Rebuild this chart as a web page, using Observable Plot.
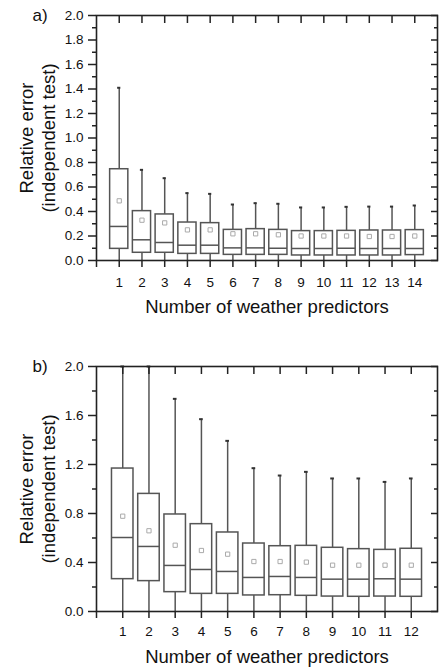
<!DOCTYPE html>
<html>
<head>
<meta charset="utf-8">
<script src="https://cdn.jsdelivr.net/npm/d3@7"></script>
<script src="https://cdn.jsdelivr.net/npm/@observablehq/plot@0.6"></script>
<style>
  body { margin: 0; background: white; }
  #chart svg { display: block; }
</style>
</head>
<body>
<div id="chart"></div>
<script>
// Panel a)
const catsA = [1, 2, 3, 4, 5, 6, 7, 8, 9, 10, 11, 12, 13, 14];
const maxA = [1.41, 0.74, 0.672, 0.55, 0.544, 0.457, 0.468, 0.463, 0.433, 0.433, 0.438, 0.44, 0.44, 0.449];
const q3A = [0.745, 0.403, 0.376, 0.31, 0.305, 0.25, 0.256, 0.25, 0.24, 0.24, 0.242, 0.245, 0.245, 0.248];
const medA = [0.278, 0.169, 0.147, 0.125, 0.125, 0.103, 0.103, 0.1, 0.098, 0.098, 0.1, 0.098, 0.098, 0.098];
const q1A = [0.095, 0.063, 0.063, 0.054, 0.054, 0.046, 0.046, 0.046, 0.041, 0.041, 0.041, 0.041, 0.041, 0.044];
const meanA = [0.487, 0.329, 0.307, 0.25, 0.25, 0.218, 0.218, 0.21, 0.2, 0.2, 0.2, 0.196, 0.196, 0.2];
const minA = [0, 0, 0, 0, 0, 0, 0, 0, 0, 0, 0, 0, 0, 0];
const yTicksA = [0, 0.2, 0.4, 0.6, 0.8, 1.0, 1.2, 1.4, 1.6, 1.8, 2.0];
const yMinorA = [0.1, 0.3, 0.5, 0.7, 0.9, 1.1, 1.3, 1.5, 1.7, 1.9];

// Panel b)
const catsB = [1, 2, 3, 4, 5, 6, 7, 8, 9, 10, 11, 12];
const maxB = [2.0, 2.0, 1.736, 1.57, 1.393, 1.17, 1.11, 1.14, 1.086, 1.086, 1.058, 1.086];
const q3B = [1.167, 0.96, 0.792, 0.713, 0.645, 0.555, 0.533, 0.536, 0.52, 0.509, 0.503, 0.512];
const medB = [0.604, 0.531, 0.376, 0.343, 0.327, 0.278, 0.286, 0.278, 0.264, 0.264, 0.267, 0.264];
const q1B = [0.264, 0.248, 0.158, 0.144, 0.144, 0.131, 0.133, 0.128, 0.122, 0.12, 0.122, 0.12];
const meanB = [0.778, 0.659, 0.541, 0.498, 0.468, 0.408, 0.408, 0.403, 0.378, 0.378, 0.378, 0.378];
const minB = [0, 0, 0, 0, 0, 0, 0, 0, 0, 0, 0, 0];
const yTicksB = [0, 0.4, 0.8, 1.2, 1.6, 2.0];
const yMinorB = [0.2, 0.6, 1.0, 1.4, 1.8];

const yLabel = "Relative error\n(independent test)";
const xLabel = "Number of weather predictors";

function panel(cfg) {
  const data = cfg.cats.map((c, i) => ({
    c, max: cfg.max[i], q3: cfg.q3[i], med: cfg.med[i], q1: cfg.q1[i], mean: cfg.mean[i], min: cfg.min[i]
  }));
  const hw = cfg.hw;
  const boxColor = "#555";
  const axisColor = "#222";
  return Plot.plot({
    width: 441,
    height: cfg.height,
    marginLeft: 96,
    marginRight: 4,
    marginTop: cfg.marginTop,
    marginBottom: cfg.marginBottom,
    style: {fontFamily: "'Liberation Sans', Arial, sans-serif", fontSize: "13.5px", color: "#111", background: "white"},
    x: {type: "linear", domain: cfg.xDomain},
    y: {domain: [0, 2.0]},
    marks: [
      // whiskers
      Plot.ruleX(data, {x: "c", y1: "q3", y2: "max", stroke: boxColor, strokeWidth: 1.5}),
      Plot.ruleX(data, {x: "c", y1: "min", y2: "q1", stroke: boxColor, strokeWidth: 1.5}),
      Plot.ruleY(data, {x1: d => d.c - 0.07, x2: d => d.c + 0.07, y: "max", stroke: "#333", strokeWidth: 2}),
      // boxes
      Plot.rect(data, {x1: d => d.c - hw, x2: d => d.c + hw, y1: "q1", y2: "q3", fill: "white", stroke: boxColor, strokeWidth: 1.5}),
      Plot.ruleY(data, {x1: d => d.c - hw, x2: d => d.c + hw, y: "med", stroke: boxColor, strokeWidth: 1.5}),
      Plot.dot(data, {x: "c", y: "mean", symbol: "square", r: 2.4, stroke: "#aaa", fill: "none", strokeWidth: 1}),
      // frame
      Plot.frame({stroke: axisColor, strokeWidth: 1.6}),
      // y axis left
      Plot.axisY(cfg.yTicks, {anchor: "left", tickSize: 8, tickPadding: 5, tickFormat: d3.format(".1f"), label: null, stroke: axisColor, strokeWidth: 1.5, fontSize: 13.5}),
      Plot.axisY(cfg.yMinor, {anchor: "left", tickSize: 4, tickFormat: () => "", label: null, stroke: axisColor, strokeWidth: 1.5}),
      // y axis right, inward
      Plot.axisY(cfg.yTicks, {anchor: "right", tickSize: -7, tickFormat: () => "", label: null, stroke: axisColor, strokeWidth: 1.5}),
      Plot.axisY(cfg.yMinor, {anchor: "right", tickSize: -4, tickFormat: () => "", label: null, stroke: axisColor, strokeWidth: 1.5}),
      // x axis bottom
      Plot.axisX([0, ...cfg.cats], {anchor: "bottom", tickSize: 7, tickPadding: cfg.xPad, tickFormat: d => d === 0 ? "" : String(d), label: null, stroke: axisColor, strokeWidth: 1.5, fontSize: 13.5}),
      // x axis top, inward
      Plot.axisX(cfg.cats, {anchor: "top", tickSize: -7, tickFormat: () => "", label: null, stroke: axisColor, strokeWidth: 1.5}),
      // labels
      Plot.text([yLabel], {text: d => d, frameAnchor: "left", dx: -60, rotate: -90, fontSize: 18.5, lineHeight: 1.19, textAnchor: "middle", lineAnchor: "middle", fill: "#111"}),
      Plot.text([xLabel], {text: d => d, frameAnchor: "bottom", dy: cfg.xLabelDy, fontSize: 18.5, textAnchor: "middle", lineAnchor: "middle", fill: "#111"}),
      Plot.text([cfg.tag], {text: d => d, frameAnchor: "top-left", dx: -56.5, dy: 0, fontSize: 17, textAnchor: "middle", lineAnchor: "middle", fill: "#111"})
    ]
  });
}

const chart = document.getElementById("chart");
chart.append(panel({
  cats: catsA, max: maxA, q3: q3A, med: medA, q1: q1A, mean: meanA, min: minA,
  yTicks: yTicksA, yMinor: yMinorA, xDomain: [0, 15], hw: 0.4,
  height: 330, marginTop: 15, marginBottom: 70, xPad: 10, xLabelDy: 46.5, tag: "a)"
}));
chart.append(panel({
  cats: catsB, max: maxB, q3: q3B, med: medB, q1: q1B, mean: meanB, min: minB,
  yTicks: yTicksB, yMinor: yMinorB, xDomain: [0, 13], hw: 0.41,
  height: 340, marginTop: 36, marginBottom: 59, xPad: 8, xLabelDy: 46, tag: "b)"
}));
</script>
</body>
</html>
